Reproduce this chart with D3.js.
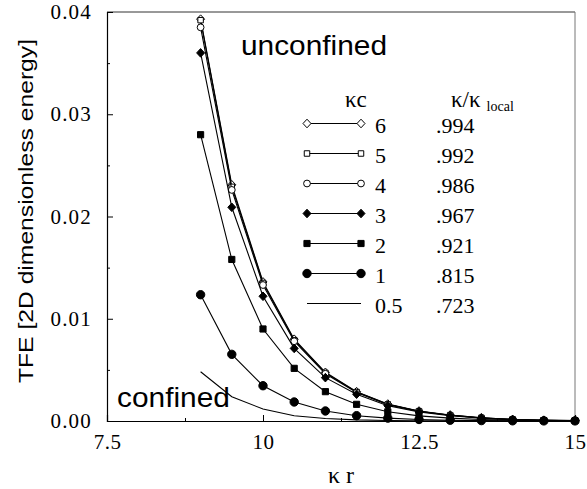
<!DOCTYPE html>
<html>
<head>
<meta charset="utf-8">
<script src="https://cdn.jsdelivr.net/npm/d3@7"></script>
<style>
  body { margin: 0; background: #fff; }
  svg { display: block; }
  text { fill: #000; }
</style>
</head>
<body>
<div id="chart"></div>
<script>
const kr = [9, 9.5, 10, 10.5, 11, 11.5, 12, 12.5, 13, 13.5, 14, 14.5, 15];

const kcLabels = ["6", "5", "4", "3", "2", "1", "0.5"];
const ratioLabels = [".994", ".992", ".986", ".967", ".921", ".815", ".723"];
const markerTypes = ["diamondOpen", "squareOpen", "circleOpen", "diamond", "square", "circle", "none"];

const tfe6 = [0.0393, 0.0231, 0.0136, 0.0080, 0.00476, 0.00287, 0.00166, 0.00098, 0.00059, 0.00032, 0.00016, 0.00008, 0.00004];
const tfe5 = [0.0392, 0.0229, 0.0135, 0.0079, 0.00470, 0.00283, 0.00163, 0.00096, 0.00057, 0.00031, 0.00015, 0.00008, 0.00004];
const tfe4 = [0.0385, 0.0226, 0.0133, 0.0078, 0.00462, 0.00278, 0.00160, 0.00094, 0.00056, 0.00030, 0.00015, 0.00007, 0.00004];
const tfe3 = [0.0360, 0.0209, 0.0122, 0.0071, 0.00424, 0.00262, 0.00150, 0.00088, 0.00052, 0.00028, 0.00014, 0.00007, 0.00003];
const tfe2 = [0.0280, 0.0158, 0.0090, 0.00515, 0.00287, 0.00163, 0.00090, 0.00050, 0.00028, 0.00015, 0.00008, 0.00004, 0.00002];
const tfe1 = [0.01235, 0.00652, 0.00345, 0.00186, 0.00098, 0.00052, 0.00028, 0.00015, 0.00008, 0.00004, 0.00002, 0.00001, 0.00001];
const tfe05 = [0.00482, 0.00238, 0.00117, 0.00052, 0.00025, 0.00011, 0.00005, 0.00002, 0.00001, 0, 0, 0, 0];

const seriesValues = [tfe6, tfe5, tfe4, tfe3, tfe2, tfe1, tfe05];

const xTicks = [7.5, 10, 12.5, 15];
const xMinorTicks = [8.75, 11.25, 13.75];
const yTicks = [0, 0.01, 0.02, 0.03, 0.04];
const yMinorTicks = [0.005, 0.015, 0.025, 0.035];

const W = 587, H = 489;
const margin = { top: 12, right: 12, bottom: 68, left: 107 };
const plotW = W - margin.left - margin.right;
const plotH = H - margin.top - margin.bottom;

const svg = d3.select("#chart").append("svg")
  .attr("width", W)
  .attr("height", H);

const g = svg.append("g")
  .attr("transform", `translate(${margin.left},${margin.top})`);

const x = d3.scaleLinear().domain([7.5, 15]).range([0, plotW]);
const y = d3.scaleLinear().domain([0, 0.04]).range([plotH, 0]);

// frame: top and right edges
g.append("line").attr("x1", 0).attr("x2", plotW).attr("y1", 0).attr("y2", 0)
  .attr("stroke", "#333").attr("stroke-width", 1);
g.append("line").attr("x1", plotW).attr("x2", plotW).attr("y1", 0).attr("y2", plotH)
  .attr("stroke", "#777").attr("stroke-width", 1);

const serif = "'Liberation Serif', 'Times New Roman', serif";
const sans = "'Liberation Sans', Arial, sans-serif";

// axes with inward ticks
const xAxis = g.append("g")
  .attr("transform", `translate(0,${plotH})`)
  .call(d3.axisBottom(x).tickValues(xTicks).tickSize(-6).tickPadding(13)
    .tickFormat(d => String(d)));
xAxis.selectAll(".tick text").style("font-family", serif).style("font-size", "21px")
  .style("letter-spacing", "0.5px").attr("fill", "#000");
g.append("g")
  .attr("transform", `translate(0,${plotH})`)
  .call(d3.axisBottom(x).tickValues(xMinorTicks).tickSize(-3).tickFormat(""))
  .call(a => a.select(".domain").remove());

const yAxis = g.append("g")
  .call(d3.axisLeft(y).tickValues(yTicks).tickSize(-6).tickPadding(15)
    .tickFormat(d3.format(".2f")));
yAxis.selectAll(".tick text").style("font-family", serif).style("font-size", "21px")
  .style("letter-spacing", "1.2px").attr("fill", "#000");
g.append("g")
  .call(d3.axisLeft(y).tickValues(yMinorTicks).tickSize(-3).tickFormat(""))
  .call(a => a.select(".domain").remove());

g.selectAll(".domain").attr("stroke", "#000").attr("stroke-width", 1.2);
g.selectAll(".tick line").attr("stroke", "#000");

// marker drawing
function markerPath(base) {
  if (base === "diamond") {
    return d3.path && (() => {
      const p = d3.path();
      p.moveTo(0, -4.3); p.lineTo(4, 0); p.lineTo(0, 4.3); p.lineTo(-4, 0); p.closePath();
      return p.toString();
    })();
  }
  if (base === "square") return d3.symbol().type(d3.symbolSquare).size(38)();
  return null;
}
function drawMarker(sel, type) {
  const open = type.endsWith("Open");
  const base = type.replace("Open", "");
  if (base === "circle") {
    sel.append("circle").attr("r", open ? 3.4 : 4.2)
      .attr("fill", open ? "#fff" : "#000").attr("stroke", "#000").attr("stroke-width", 1);
    return;
  }
  let d = markerPath(base);
  if (base === "square" && open) d = d3.symbol().type(d3.symbolSquare).size(30)();
  sel.append("path")
    .attr("d", d)
    .attr("fill", open ? "#fff" : "#000")
    .attr("stroke", "#000")
    .attr("stroke-width", 1);
}

const line = d3.line().x((d, i) => x(kr[i])).y(d => y(d));

// draw order: thin line first, then 6..1 so filled circles sit on top
const order = [6, 0, 1, 2, 3, 4, 5];
order.forEach(si => {
  const vals = seriesValues[si];
  g.append("path")
    .datum(vals)
    .attr("d", line)
    .attr("fill", "none")
    .attr("stroke", "#000")
    .attr("stroke-width", 1.1);
  if (markerTypes[si] !== "none") {
    g.selectAll(null)
      .data(vals)
      .enter()
      .append("g")
      .attr("transform", (d, i) => `translate(${x(kr[i])},${y(d)})`)
      .each(function() { drawMarker(d3.select(this), markerTypes[si]); });
  }
});

// annotations
svg.append("text").attr("x", 241).attr("y", 55)
  .attr("textLength", 146).attr("lengthAdjust", "spacingAndGlyphs")
  .style("font-family", sans).style("font-size", "27px").text("unconfined");
svg.append("text").attr("x", 117).attr("y", 407)
  .attr("textLength", 113).attr("lengthAdjust", "spacingAndGlyphs")
  .style("font-family", sans).style("font-size", "27px").text("confined");

// legend
const legX1 = 307, legX2 = 361, legY0 = 123.5, legStep = 30;
svg.append("text").attr("x", 345).attr("y", 107)
  .style("font-family", serif).style("font-size", "23px").text("κc");
const hdr = svg.append("text").attr("x", 451).attr("y", 107)
  .style("font-family", serif).style("font-size", "23px");
hdr.append("tspan").text("κ/κ");
hdr.append("tspan").attr("dx", 6).attr("dy", 4).style("font-size", "14px").text("local");

kcLabels.forEach((lab, i) => {
  const yy = legY0 + i * legStep;
  svg.append("line").attr("x1", legX1).attr("x2", legX2).attr("y1", yy).attr("y2", yy)
    .attr("stroke", "#000").attr("stroke-width", 1.1);
  if (markerTypes[i] !== "none") {
    [legX1, legX2].forEach(px => {
      drawMarker(svg.append("g").attr("transform", `translate(${px},${yy})`), markerTypes[i]);
    });
  }
  svg.append("text").attr("x", 375).attr("y", yy + 9)
    .style("font-family", serif).style("font-size", "22px").text(lab);
  svg.append("text").attr("x", 436).attr("y", yy + 9)
    .style("font-family", serif).style("font-size", "22px").text(ratioLabels[i]);
});

// axis titles
svg.append("text")
  .attr("transform", `translate(33,211) rotate(-90)`)
  .attr("text-anchor", "middle")
  .attr("textLength", 344).attr("lengthAdjust", "spacingAndGlyphs")
  .style("font-family", sans).style("font-size", "21px")
  .text("TFE [2D dimensionless energy]");
svg.append("text").attr("x", 341).attr("y", 483)
  .attr("text-anchor", "middle")
  .style("font-family", serif).style("font-size", "24px")
  .text("κ r");
</script>
</body>
</html>
